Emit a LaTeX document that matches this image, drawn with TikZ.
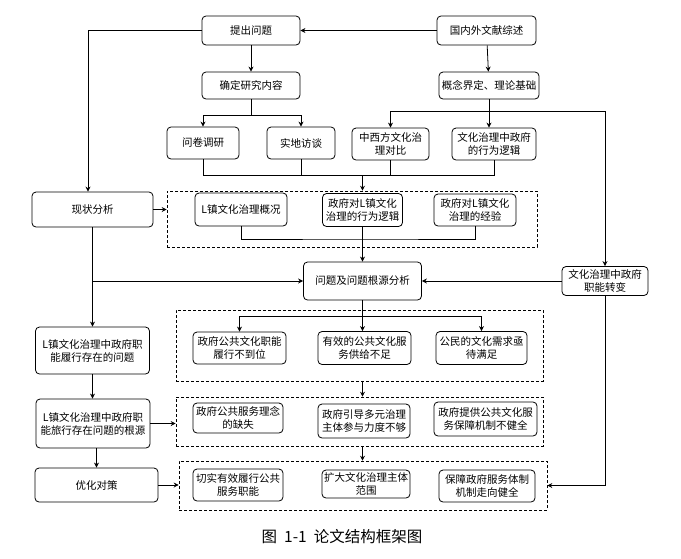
\documentclass[tikz,border=0pt]{standalone}
\usepackage{fontspec}
\setmainfont{Noto Sans CJK SC}
\usetikzlibrary{arrows.meta,positioning}

\tikzset{
  box/.style={draw,rounded corners=4pt,align=center,inner sep=1pt,line width=0.8pt,
    font=\fontsize{10.5}{13}\selectfont},
  group/.style={draw,densely dashed,line width=0.6pt,minimum width=#1},
  arr/.style={-{Stealth[length=5pt,width=5pt]},line width=0.8pt},
}

\begin{document}
\begin{tikzpicture}[x=1pt,y=-1pt]
\useasboundingbox (0,0) rectangle (681,558);
% top rows
\node[box,minimum width=98,minimum height=29] (tichu) at (251,30.5) {提出问题};
\node[box,minimum width=99,minimum height=29] (wenxian) at (486.5,30.5) {国内外文献综述};
\node[box,minimum width=98,minimum height=27] (queding) at (251,85.5) {确定研究内容};
\node[box,minimum width=100,minimum height=27] (gainian) at (489,85.5) {概念界定、理论基础};
\node[box,minimum width=72,minimum height=32] (wenjuan) at (203,143) {问卷调研};
\node[box,minimum width=68,minimum height=32] (shidi) at (301,143) {实地访谈};
\node[box,minimum width=77,minimum height=32] (zhongxi) at (390.5,144) {中西方文化治\\理对比};
\node[box,minimum width=84,minimum height=32] (luoji) at (494,144) {文化治理中政府\\的行为逻辑};
% left column
\node[box,minimum width=121,minimum height=35] (xianzhuang) at (92.5,209.5) {现状分析};
\node[box,minimum width=114,minimum height=47] (lvxing) at (92.5,350.5) {L镇文化治理中政府职\\能履行存在的问题};
\node[box,minimum width=114,minimum height=49] (genyuan) at (93,423.5) {L镇文化治理中政府职\\能旅行存在问题的根源};
\node[box,minimum width=123,minimum height=34] (duice) at (96.5,485) {优化对策};
% dashed groups
\node[group=370,minimum height=56] (g1) at (352,219) {};
\node[group=367,minimum height=71] (g2) at (359.5,345.5) {};
\node[group=367,minimum height=49] (g3) at (359.5,421.5) {};
\node[group=368,minimum height=49] (g4) at (363,485.5) {};
% group contents
\node[box,minimum width=92,minimum height=33] (gaikuang) at (241,209.5) {L镇文化治理概况};
\node[box,minimum width=80,minimum height=33] (xwluoji) at (362.5,210) {政府对L镇文化\\治理的行为逻辑};
\node[box,minimum width=82,minimum height=32] (jingyan) at (475,210) {政府对L镇文化\\治理的经验};
\node[box,minimum width=118,minimum height=38] (fenxi) at (362.5,281) {问题及问题根源分析};
\node[box,minimum width=86,minimum height=29] (zhuanbian) at (605,281) {文化治理中政府\\职能转变};
\node[box,minimum width=93,minimum height=32] (budaowei) at (239.5,348) {政府公共文化职能\\履行不到位};
\node[box,minimum width=93,minimum height=33] (gongji) at (364.5,348) {有效的公共文化服\\务供给不足};
\node[box,minimum width=91,minimum height=33] (xuqiu) at (481.5,348) {公民的文化需求亟\\待满足};
\node[box,minimum width=90,minimum height=30] (linian) at (238,418) {政府公共服务理念\\的缺失};
\node[box,minimum width=92,minimum height=34] (lidu) at (364,421) {政府引导多元治理\\主体参与力度不够};
\node[box,minimum width=103,minimum height=34] (jizhi) at (485.5,419) {政府提供公共文化服\\务保障机制不健全};
\node[box,minimum width=90,minimum height=32] (zhineng) at (238,485) {切实有效履行公共\\服务职能};
\node[box,minimum width=88,minimum height=28] (fanwei) at (366,484) {扩大文化治理主体\\范围};
\node[box,minimum width=96,minimum height=32] (jianquan) at (487,486) {保障政府服务体制\\机制走向健全};
\node[font=\fontsize{15.5}{18}\selectfont] (caption) at (342,537) {图\hspace{0.45em}1-1\hspace{0.45em}论文结构框架图};

\coordinate (qsplit) at (251,115);
\coordinate (gsplit) at (489,111);
\coordinate (hub1) at (362.5,175);
\coordinate (hub2) at (362.5,239);
\coordinate (fsplit) at (362.5,316);

\draw[arr] (wenxian) -- (tichu);
\draw[arr] (tichu.west) -| ([xshift=-4.5pt]xianzhuang.north);
\draw[arr] (tichu) -- (queding);
\draw[line width=0.8pt] (queding) -- (qsplit);
\draw[arr] (qsplit) -| (wenjuan.north);
\draw[arr] (qsplit) -| (shidi.north);
\draw[arr] (wenxian) -- (gainian);
\draw[line width=0.8pt] (gainian) -- (gsplit);
\draw[arr] (gsplit) -| (zhongxi.north);
\draw[arr] (gsplit) -- (gsplit |- luoji.north);
\draw[arr] (gsplit) -| (zhuanbian.north);
\foreach \n in {wenjuan,shidi,zhongxi,luoji} % collect into hub
  \draw[line width=0.8pt] (\n.south) |- (hub1);
\draw[arr] (hub1) -- (hub1 |- g1.north);
\draw[arr] (xianzhuang.east) -- (xianzhuang.east -| g1.west);
\draw[line width=0.8pt] (gaikuang.south) |- (hub2) -| (jingyan.south);
\draw[arr] (xwluoji) -- (fenxi);
\draw[arr] (xianzhuang) -- (lvxing);
\draw[arr] (xianzhuang.south |- fenxi.west) -- (fenxi.west);
\draw[arr] (zhuanbian) -- (fenxi);
\draw[arr] (fenxi.south) -- (fenxi.south |- gongji.north);
\draw[arr] (fsplit) -| (budaowei.north);
\draw[arr] (fsplit) -| (xuqiu.north);
\draw[arr] (fenxi.south |- g2.south) -- (fenxi.south |- g3.north);
\draw[arr] (fenxi.south |- g3.south) -- (fenxi.south |- g4.north);
\draw[arr] (lvxing) -- (lvxing |- genyuan.north);
\draw[arr] (genyuan.east) -- (genyuan.east -| g3.west);
\draw[arr] (genyuan.south -| duice.north) -- (duice.north);
\draw[arr] (duice.east) -- (duice.east -| g4.west);
\draw[arr] (zhuanbian.south) |- (g4.east);
\end{tikzpicture}
\end{document}
